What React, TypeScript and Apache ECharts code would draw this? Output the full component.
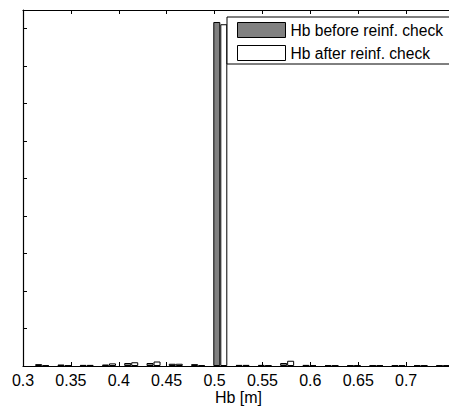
import React, { useEffect, useRef } from "react";
import * as echarts from "echarts";

// Histogram bin centres of Hb [m]
const binCenters = [
  0.32, 0.3433, 0.3665, 0.3898, 0.413, 0.4363, 0.4595, 0.4828, 0.506, 0.5293,
  0.5525, 0.5758, 0.599, 0.6223, 0.6455, 0.6688, 0.692, 0.7153, 0.7385,
];
// Counts per bin
const countsBefore = [5, 4, 3, 4, 8, 8, 6, 5, 918, 3, 3, 8, 3, 2, 2, 2, 2, 2, 2];
const countsAfter = [2, 2, 3, 7, 10, 12, 6, 2, 912, 3, 2, 14, 2, 2, 2, 2, 2, 2, 2];

const seriesNames = ["Hb before reinf. check", "Hb after reinf. check"];
const axisTitle = "Hb [m]";

const FONT = "'Liberation Sans', Arial, sans-serif";

export default function App() {
  const ref = useRef<HTMLDivElement>(null);

  useEffect(() => {
    if (!ref.current) return;
    const chart = echarts.init(ref.current, null, { renderer: "svg" });

    const tick = { show: true, inside: true, length: 4, lineStyle: { color: "#000", width: 1 } };
    const axisLine = { show: true, lineStyle: { color: "#000", width: 1.2 } };

    chart.setOption({
      animation: false,
      backgroundColor: "#fff",
      textStyle: { fontFamily: FONT },
      grid: {
        left: 23,
        right: -5,
        top: 10,
        bottom: 40,
        containLabel: false,
        outerBoundsMode: "none",
      },
      legend: {
        orient: "vertical",
        left: 227,
        top: 17,
        itemWidth: 48,
        itemHeight: 15,
        itemGap: 7,
        padding: [5, 10, 3, 10],
        borderColor: "#000",
        borderWidth: 1,
        backgroundColor: "#fff",
        icon: "rect",
        textStyle: { fontSize: 15.6, color: "#000", fontFamily: FONT },
        data: [
          { name: seriesNames[0], itemStyle: { color: "#808080", borderColor: "#000", borderWidth: 1 } },
          { name: seriesNames[1], itemStyle: { color: "#fff", borderColor: "#000", borderWidth: 1 } },
        ],
      },
      xAxis: [
        {
          type: "value",
          position: "bottom",
          min: 0.3,
          max: 0.75,
          interval: 0.05,
          name: axisTitle,
          nameLocation: "middle",
          nameGap: 23,
          nameMoveOverlap: false,
          nameTextStyle: {
            fontSize: 16,
            color: "#000",
            fontFamily: FONT,
            verticalAlign: "top",
          },
          axisLine,
          axisTick: tick,
          splitLine: { show: false },
          axisLabel: {
            fontSize: 16,
            color: "#000",
            margin: 6,
            fontFamily: FONT,
            showMaxLabel: false,
            formatter: (v: number) => String(parseFloat(v.toFixed(2))),
          },
        },
        {
          type: "value",
          position: "top",
          min: 0.3,
          max: 0.75,
          interval: 0.05,
          axisLine,
          axisTick: tick,
          axisLabel: { show: false },
          splitLine: { show: false },
        },
      ],
      yAxis: {
        type: "value",
        min: 0,
        max: 950,
        interval: 100,
        axisLine,
        axisTick: tick,
        axisLabel: { show: false },
        splitLine: { show: false },
      },
      series: [
        {
          name: seriesNames[0],
          type: "bar",
          xAxisIndex: 0,
          barWidth: 7,
          barGap: "0%",
          itemStyle: { color: "#808080", borderColor: "#000", borderWidth: 1 },
          data: binCenters.map((c, i) => [c, countsBefore[i]]),
        },
        {
          name: seriesNames[1],
          type: "bar",
          xAxisIndex: 0,
          barWidth: 7,
          barGap: "0%",
          itemStyle: { color: "#fff", borderColor: "#000", borderWidth: 1 },
          data: binCenters.map((c, i) => [c, countsAfter[i]]),
        },
      ],
    });

    return () => chart.dispose();
  }, []);

  return (
    <div
      ref={ref}
      style={{ position: "fixed", left: 0, top: 0, width: 449, height: 406 }}
    />
  );
}
